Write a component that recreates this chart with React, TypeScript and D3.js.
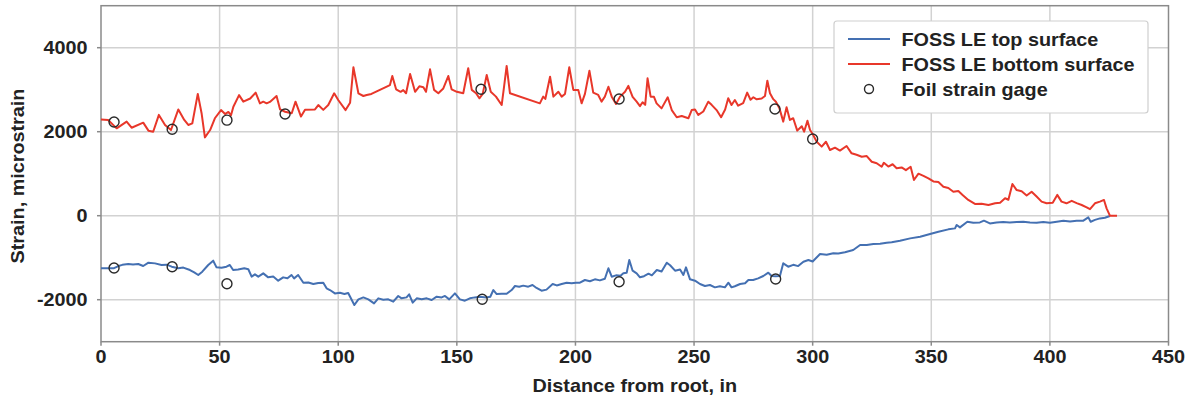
import * as d3 from 'd3';

// distance from root (in), strain (microstrain)
const bottomSurface: [number, number][] = [
  [0, 2290], [3, 2280], [6.6, 2080], [10.8, 2240], [12.9, 2095], [17.8, 2215], [20, 2025], [22, 2000],
  [24.4, 2400], [27, 2160], [29.5, 2040], [32.6, 2530], [35.1, 2280], [36.8, 2160], [38.5, 2200],
  [40.8, 2900], [42.4, 2440], [43.8, 1865], [46, 2040], [48, 2320], [50.6, 2515], [52.3, 2420],
  [53.7, 2470], [54.8, 2390], [55.8, 2595], [58.2, 2870], [60, 2715], [62.9, 2790], [65.2, 2930],
  [67, 2675], [68.4, 2715], [69.8, 2675], [71.2, 2710], [74, 2850], [75.5, 2530], [77.6, 2475],
  [80.4, 2440], [82, 2715], [84.3, 2360], [86, 2520], [90.2, 2530], [91.6, 2635], [93.7, 2520],
  [95.8, 2635], [98.3, 2915], [100, 2755], [103.1, 2515], [105, 2690], [106.4, 3535], [108.5, 2915],
  [110.6, 2850], [112, 2875], [114, 2900], [121.8, 3110], [122.8, 3325], [124.4, 3010], [126.3, 2950],
  [127.4, 2990], [128.6, 2915], [130.3, 3375], [132.4, 2950], [134.2, 3080], [135.9, 3060], [137, 2950],
  [138.7, 3485], [140.4, 2995], [142.2, 2915], [144.3, 3030], [146.4, 3325], [147.8, 3010], [150, 2950],
  [152.7, 2915], [154.8, 3510], [156.3, 2995], [158.1, 2915], [159.5, 2795], [160.9, 2900], [162.6, 3350],
  [164.3, 2950], [166.5, 2835], [168.9, 2635], [169.9, 3070], [171, 3565], [172.4, 2915], [185, 2675],
  [186.4, 2835], [187.3, 2780], [189.3, 3310], [190.7, 2835], [192.8, 2950], [194.2, 2835], [195.6, 2900],
  [197.4, 3535], [199.1, 2995], [201.2, 2995], [202.6, 2675], [204, 2900], [205.9, 3450], [207.5, 2930],
  [209.6, 2875], [211, 2715], [212.4, 2835], [213.9, 3070], [215.3, 2835], [217.1, 2660], [218.8, 2835],
  [220.9, 2950], [222.3, 3090], [224.1, 2830], [225.8, 2715], [227.2, 2610], [228.3, 2700], [229.4, 2640],
  [230.4, 3270], [231.7, 2835], [233.1, 2830], [234.2, 2675], [236.3, 2555], [238.9, 2820], [240.6, 2515],
  [242.7, 2345], [244.8, 2375], [247.6, 2320], [249, 2515], [250.4, 2530], [251.8, 2400], [253.9, 2480],
  [256, 2715], [257.4, 2640], [259.5, 2515], [261.4, 2345], [263.1, 2530], [264.4, 2795], [265.8, 2635],
  [267.2, 2755], [268.6, 2620], [270.7, 2680], [272.4, 2930], [273.8, 2760], [275, 2820], [276.4, 2770],
  [278.5, 2790], [279.9, 2850], [280.9, 3215], [282, 2915], [283.4, 2775], [284.5, 2715], [286, 2555],
  [287.6, 2240], [289, 2580], [290.4, 2280], [291.8, 2320], [293.5, 2025], [295.4, 2130], [296.4, 2000],
  [297.8, 2260], [298.9, 2040], [300, 1945], [301.7, 1760], [303.8, 1645], [305.6, 1760], [307.3, 1565],
  [309.4, 1620], [311.5, 1550], [314.3, 1660], [316.4, 1485], [318.5, 1450], [320.7, 1405], [322.8, 1420],
  [324.9, 1285], [327, 1250], [329.1, 1165], [330, 1260], [331.9, 1170], [333.7, 1225], [335.4, 1130],
  [337.5, 1150], [339.3, 1085], [341.3, 1165], [342.7, 850], [344.6, 1000], [346.7, 950], [348.8, 890],
  [350.9, 815], [353, 800], [355.1, 690], [357.2, 660], [359.3, 570], [361.4, 590], [363.2, 495],
  [365.6, 375], [368.4, 280], [371.2, 285], [374.1, 255], [376.9, 295], [379, 310], [381.1, 415],
  [382.5, 380], [384.2, 755], [386, 610], [388.1, 580], [390.2, 480], [392.3, 570], [394.4, 455],
  [396.5, 335], [398.6, 295], [401.2, 310], [403.1, 495], [404.9, 335], [407, 295], [409.2, 355],
  [411.3, 300], [413.4, 255], [415.5, 200], [416.9, 155], [419, 295], [421.1, 335], [422.8, 375],
  [423.9, 175], [425.3, 0], [428.3, 0],
];

const topSurface: [number, number][] = [
  [0, -1252], [3, -1252], [5.5, -1250], [7.3, -1198], [9, -1170], [11.5, -1150], [13.5, -1160], [15.7, -1150],
  [17.8, -1198], [20, -1118], [22.8, -1135], [25.5, -1175], [27.6, -1165], [29.8, -1214], [32.6, -1252],
  [34.7, -1235], [37.5, -1293], [39.3, -1350], [41, -1412], [42.7, -1333], [45.2, -1174], [47.3, -1071],
  [48.7, -1230], [50.8, -1240], [52.9, -1214], [54.3, -1174], [55.7, -1293], [57.8, -1280], [60.4, -1252],
  [62.1, -1275], [63.5, -1452], [64.9, -1397], [66.3, -1452], [68.4, -1373], [70.5, -1468], [72.6, -1450],
  [74.7, -1547], [76.8, -1468], [78.6, -1490], [80.3, -1412], [81.4, -1492], [83.1, -1412], [85.3, -1595],
  [87.4, -1590], [89.5, -1627], [91.6, -1600], [93.7, -1595], [95.1, -1730], [96.5, -1770], [98.6, -1850],
  [100.7, -1835], [102.6, -1865], [104.2, -1840], [106.8, -2126], [108.5, -1992], [110.6, -1945],
  [112.7, -1992], [115.1, -2087], [116.9, -1968], [119, -2000], [121.1, -1990], [123.2, -2047],
  [125.3, -1912], [126.7, -1968], [128.8, -1945], [129.9, -1873], [131.4, -2071], [133.1, -1968],
  [135.2, -1990], [137.3, -1968], [139.4, -2008], [141.5, -1928], [143.6, -1945], [145, -1910],
  [146.8, -1992], [149.2, -1850], [151.3, -1992], [153.4, -2023], [155.5, -1968], [157.6, -1945],
  [159.7, -1930], [162.4, -1945], [164.1, -1930], [165.4, -1770], [166.8, -1865], [168.9, -1860],
  [171, -1860], [173.1, -1770], [174.5, -1674], [176.3, -1690], [178, -1665], [180.1, -1690],
  [181.9, -1651], [183.6, -1720], [185.7, -1786], [187.8, -1760], [190.4, -1627], [192.1, -1660],
  [194.2, -1627], [196.3, -1595], [198.4, -1610], [200.2, -1595], [201.9, -1595], [204, -1531],
  [206.1, -1560], [208.2, -1515], [210.3, -1540], [212.4, -1500], [213.9, -1252], [215.3, -1452],
  [217.1, -1420], [219, -1430], [220.2, -1371], [221.6, -1360], [222.7, -1055], [224.1, -1309],
  [225.8, -1373], [227.2, -1467], [228.9, -1440], [230.8, -1380], [232.2, -1420], [234.3, -1293],
  [236.3, -1330], [238.5, -1119], [239.9, -1180], [242, -1309], [244.1, -1280], [245.5, -1412],
  [246.6, -1230], [248.3, -1515], [250.4, -1547], [252.5, -1627], [254.6, -1674], [256.7, -1650],
  [258.8, -1706], [260.9, -1680], [263, -1706], [264.5, -1595], [265.8, -1706], [267.2, -1680],
  [269.4, -1627], [271.5, -1610], [272.9, -1531], [274.9, -1531], [277, -1492], [279.2, -1436],
  [281.3, -1357], [282.7, -1436], [284.4, -1440], [286.2, -1436], [287.6, -1134], [289.7, -1214],
  [291.8, -1170], [293.9, -1200], [296.1, -1095], [298.2, -1055], [300, -1090], [303.1, -912],
  [305.9, -930], [308.7, -895], [310.8, -900], [313.6, -870], [317.1, -817], [320, -698], [322.8, -700],
  [325.6, -674], [328.4, -670], [331.2, -642], [333.3, -630], [336.8, -595], [341.1, -540], [345.3, -500],
  [349.5, -436], [353, -381], [357.2, -325], [360, -302], [360.7, -221], [362.1, -278], [365.2, -143],
  [367.7, -167], [370.5, -160], [372.2, -119], [374.7, -183], [377.5, -160], [380.3, -150], [383.1, -160],
  [386, -150], [388.8, -143], [391.6, -160], [394.4, -170], [397.2, -150], [400, -170], [402.9, -143],
  [405.7, -119], [408.5, -140], [411.3, -119], [414.1, -119], [416.2, -40], [417.2, -143], [419, -100],
  [421.1, -64], [423.2, -50], [425.3, -8],
];

const gageDist = [5.5, 30, 53.1, 77.6, 160.2, 218.4, 284.1, 300];
const gageBottom = [2230, 2060, 2275, 2420, 3010, 2780, 2540, 1825];
const gageTopDist = [5.5, 30, 53.1, 160.7, 218.4, 284.4];
const gageTop = [-1245, -1214, -1620, -1990, -1571, -1507];

const xTicks = [0, 50, 100, 150, 200, 250, 300, 350, 400, 450];
const yTicks = [-2000, 0, 2000, 4000];
const legendItems = ['FOSS LE top surface', 'FOSS LE bottom surface', 'Foil strain gage'];

const BLUE = '#4470b2';
const RED = '#e8372a';
const FONT = 'Arial, "Liberation Sans", Helvetica, sans-serif';
const SX = 1.1; // glyphs in the picture are a touch wider than Arial

const left = 101;
const right = 1168.5;
const top = 5.7;
const bottom = 341.7;

export default function App() {
  const x = d3.scaleLinear().domain([0, 450]).range([left, right]);
  const y = d3.scaleLinear().domain([-3000, 5000]).range([bottom, top]);
  const line = d3
    .line<[number, number]>()
    .x((d) => x(d[0]))
    .y((d) => y(d[1]));

  const txt = (tx: number, ty: number, s: string, anchor: string, size = 18, rot = 0) => (
    <text
      transform={`translate(${tx},${ty}) rotate(${rot}) scale(${SX},1)`}
      textAnchor={anchor}
      fontSize={size}
      fontWeight="bold"
      fill="#222"
      fontFamily={FONT}
    >
      {s}
    </text>
  );

  return (
    <div style={{ position: 'absolute', left: 0, top: 0 }}>
      <svg width={1188} height={402} style={{ display: 'block', background: '#fff' }}>
        {/* grid */}
        {xTicks.slice(1, -1).map((t) => (
          <line key={'gx' + t} x1={x(t)} x2={x(t)} y1={top} y2={bottom} stroke="#d2d2d2" strokeWidth={1.5} />
        ))}
        {yTicks.map((t) => (
          <line key={'gy' + t} x1={left} x2={right} y1={y(t)} y2={y(t)} stroke="#d2d2d2" strokeWidth={1.5} />
        ))}
        <rect x={left} y={top} width={right - left} height={bottom - top} fill="none" stroke="#8a8a8a" strokeWidth={1.5} />

        {/* ticks */}
        {yTicks.map((t) => (
          <g key={'ty' + t}>
            <line x1={left - 4} x2={left} y1={y(t)} y2={y(t)} stroke="#8a8a8a" strokeWidth={1.5} />
            {txt(87.5, y(t) + 6.5, String(t), 'end')}
          </g>
        ))}
        {xTicks.map((t) => (
          <g key={'tx' + t}>
            <line x1={x(t)} x2={x(t)} y1={bottom} y2={bottom + 4} stroke="#8a8a8a" strokeWidth={1.5} />
            {txt(x(t), 363, String(t), 'middle')}
          </g>
        ))}

        {/* axis titles */}
        {txt((left + right) / 2, 392, 'Distance from root, in', 'middle')}
        {txt(24, 176, 'Strain, microstrain', 'middle', 18, -90)}

        {/* series */}
        <path d={line(topSurface) ?? ''} fill="none" stroke={BLUE} strokeWidth={2} strokeLinejoin="round" />
        <path d={line(bottomSurface) ?? ''} fill="none" stroke={RED} strokeWidth={2} strokeLinejoin="round" />

        {gageDist.map((d, i) => (
          <circle key={'gb' + i} cx={x(d)} cy={y(gageBottom[i])} r={5} fill="none" stroke="#2a2a2a" strokeWidth={1.4} />
        ))}
        {gageTopDist.map((d, i) => (
          <circle key={'gt' + i} cx={x(d)} cy={y(gageTop[i])} r={5} fill="none" stroke="#2a2a2a" strokeWidth={1.4} />
        ))}

        {/* legend */}
        <rect x={834} y={21} width={314} height={92} rx={3} fill="#fff" stroke="#cfcfcf" strokeWidth={1.2} />
        {legendItems.map((name, i) => {
          const cy = 39 + i * 25;
          return (
            <g key={name}>
              {i < 2 ? (
                <line x1={848} x2={890} y1={cy} y2={cy} stroke={i === 0 ? BLUE : RED} strokeWidth={2} />
              ) : (
                <circle cx={869} cy={cy} r={4.5} fill="none" stroke="#2a2a2a" strokeWidth={1.4} />
              )}
              {txt(901.5, cy + 6.5, name, 'start')}
            </g>
          );
        })}
      </svg>
    </div>
  );
}
